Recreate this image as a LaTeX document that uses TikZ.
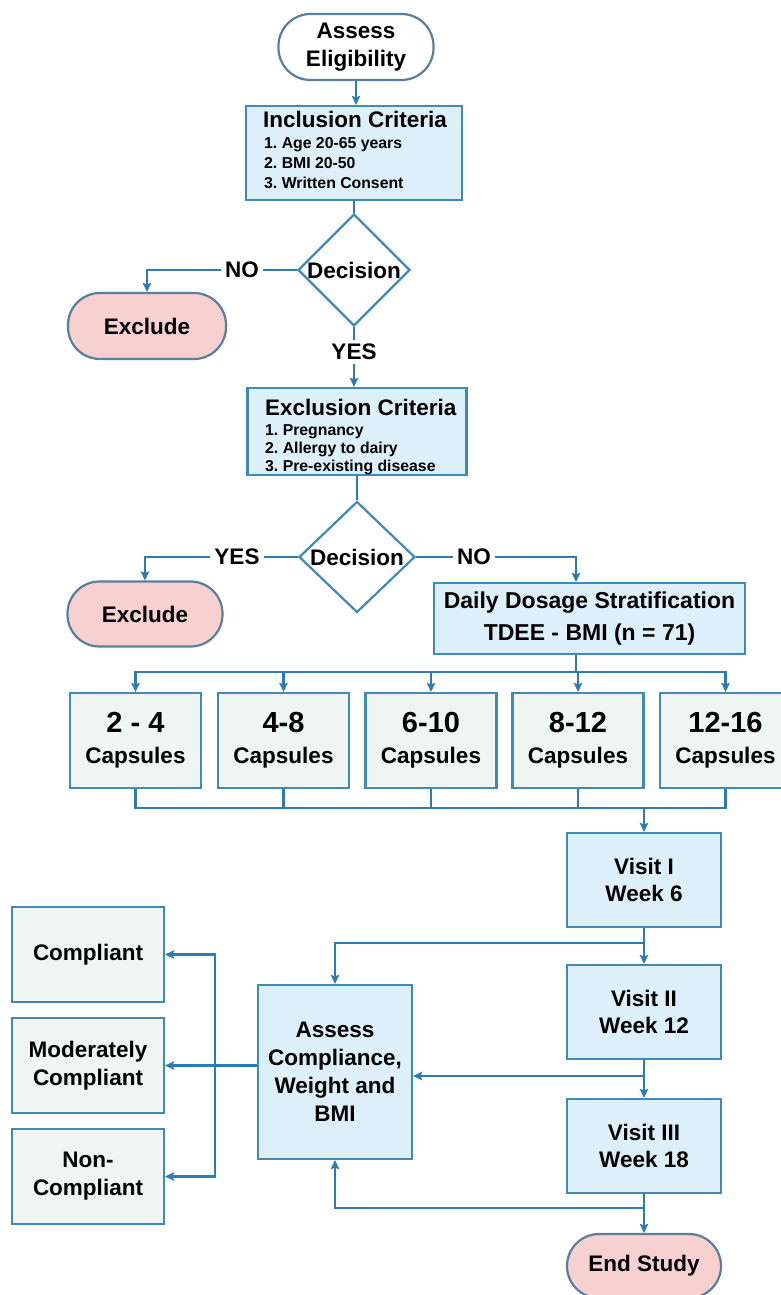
\documentclass[tikz,border=0pt]{standalone}
\usepackage{fontspec}
\setmainfont{Liberation Sans}
\frenchspacing
\usetikzlibrary{shapes.geometric,arrows.meta}
\definecolor{boxblue}{HTML}{DDF0FA}
\definecolor{boxgrey}{HTML}{EEF5F3}
\definecolor{boxline}{HTML}{3F8BB5}
\definecolor{termfill}{HTML}{F7D0D0}
\definecolor{termline}{HTML}{5A7E9E}
\definecolor{lineblue}{HTML}{2E7AB2}
\begin{document}
\begin{tikzpicture}[x=1pt,y=-1pt,
  txt/.style={font=\fontsize{22.5}{28}\selectfont\bfseries, align=center, inner sep=0pt, text=black},
  small/.style={font=\fontsize{15.8}{20}\selectfont\bfseries, inner sep=0pt, text=black, anchor=base west},
  bbox/.style={txt, rectangle, draw=boxline, fill=boxblue, line width=2.2pt},
  gbox/.style={txt, rectangle, draw=boxline, fill=boxgrey, line width=2.2pt},
  term/.style={txt, rectangle, rounded corners=32pt, draw=termline, fill=termfill, line width=2.2pt},
  startterm/.style={txt, rectangle, rounded corners=32pt, draw=termline, fill=white, line width=2.2pt},
  dec/.style={txt, diamond, aspect=1, draw=boxline, fill=white, line width=2.2pt},
  lab/.style={txt, inner sep=4pt},
  conn/.style={draw=lineblue, line width=2.3pt},
  arr/.style={conn, -{Stealth[length=9pt,width=8.5pt,inset=1.5pt]}},
]
\path[use as bounding box, fill=white] (0,0) rectangle (781,1295);
\clip (0,0) rectangle (781,1295);

% top part
\node[startterm, minimum width=155pt, minimum height=66pt] (ae) at (356,47) {Assess\\Eligibility};
\node[bbox, minimum width=216pt, minimum height=94pt] (inc) at (354,153) {};
\node[txt, anchor=base west] (inct) at (263,128) {Inclusion Criteria};
\node[small] (inc1) at (264,148.6) {1. Age 20-65 years};
\node[small] (inc2) at (264,168.6) {2. BMI 20-50};
\node[small] (inc3) at (264,188.6) {3. Written Consent};

\node[dec, minimum width=112pt, minimum height=112pt] (d1) at (354,270) {Decision};
\node[lab] (no1) at (242,270) {NO};
\node[lab] (yes1) at (354,352) {YES};
\node[term, minimum width=158pt, minimum height=66pt] (ex1) at (147,326) {Exclude};

\node[bbox, minimum width=219pt, minimum height=87pt] (exc) at (357,431.5) {};
\node[txt, anchor=base west] (exct) at (265,415) {Exclusion Criteria};
\node[small] (exc1) at (265,435.7) {1. Pregnancy};
\node[small] (exc2) at (265,453.7) {2. Allergy to dairy};
\node[small] (exc3) at (265,471.7) {3. Pre-existing disease};

\node[dec, minimum width=116pt, minimum height=111pt] (d2) at (357,557) {Decision};
\node[lab] (yes2) at (237,557) {YES};
\node[lab] (no2) at (474,557) {NO};
\node[term, minimum width=155pt, minimum height=65pt] (ex2) at (145,614) {Exclude};

\node[bbox, minimum width=311pt, minimum height=71pt, font=\fontsize{23}{32}\selectfont\bfseries] (daily) at (589.5,618.5) {Daily Dosage Stratification\\TDEE - BMI (n = 71)};

% capsules
\tikzset{caps/.style={gbox, minimum width=131pt, minimum height=95pt, font=\fontsize{22.5}{31}\selectfont\bfseries}}
\node[caps] (c1) at (135.5,740.5) {{\fontsize{29}{31}\selectfont 2 - 4}\\Capsules};
\node[caps] (c2) at (283.5,740.5) {{\fontsize{29}{31}\selectfont 4-8}\\Capsules};
\node[caps] (c3) at (431,740.5) {{\fontsize{29}{31}\selectfont 6-10}\\Capsules};
\node[caps] (c4) at (578,740.5) {{\fontsize{29}{31}\selectfont 8-12}\\Capsules};
\node[caps] (c5) at (725.5,740.5) {{\fontsize{29}{31}\selectfont 12-16}\\Capsules};

% visits
\tikzset{visit/.style={bbox, minimum width=154pt, minimum height=94pt, font=\fontsize{22.5}{27}\selectfont\bfseries}}
\node[visit] (v1) at (644,880) {Visit I\\Week 6};
\node[visit] (v2) at (644,1012) {Visit II\\Week 12};
\node[visit] (v3) at (644,1146) {Visit III\\Week 18};
\node[term, minimum width=154pt, minimum height=64pt] (es) at (644,1266) {End Study};

\node[bbox, minimum width=154pt, minimum height=174pt] (as) at (335,1072) {Assess\\Compliance,\\Weight and\\BMI};

\tikzset{res/.style={gbox, minimum width=152pt, minimum height=95pt}}
\node[res] (cp) at (88,954.5) {Compliant};
\node[res] (mc) at (88,1065.5) {Moderately\\Compliant};
\node[res] (nc) at (88,1176.5) {Non-\\Compliant};

% helper coordinates
\coordinate (b1) at (0,672);
\coordinate (b2) at (0,808);
\coordinate (j1) at (0,943);
\coordinate (j2) at (0,1076);
\coordinate (j3) at (0,1208);
\coordinate (vx) at (215,0);
\coordinate (dx) at (576,0);

% connectors
\draw[arr] (ae.south) -- (ae.south |- inc.north);
\draw[conn] (inc.south) -- (d1.north);
\draw[conn] (d1.west) -- (no1.east);
\draw[arr] (no1.west) -| (ex1.north);
\draw[conn] (d1.south) -- (yes1.north);
\draw[arr] (yes1.south) -- (yes1.south |- exc.north);
\draw[conn] (exc.south) -- (d2.north);
\draw[conn] (d2.west) -- (yes2.east);
\draw[arr] (yes2.west) -| (ex2.north);
\draw[conn] (d2.east) -- (no2.west);
\draw[arr] (no2.east) -| (dx |- daily.north);

\draw[conn] (dx |- daily.south) -- (dx |- b1);
\draw[conn, line cap=rect] (c1.north |- b1) -- (c5.north |- b1);
\foreach \c in {c1,c2,c3,c4,c5} {
  \draw[arr] (\c.north |- b1) -- (\c.north);
  \draw[conn] (\c.south) -- (\c.south |- b2);
}
\draw[conn, line cap=rect] (c1.south |- b2) -- (c5.south |- b2);
\draw[arr] (v1.north |- b2) -- (v1.north);

\draw[arr] (v1.south) -- (v2.north);
\draw[arr] (v1.south |- j1) -| (as.north);
\draw[arr] (v2.south) -- (v3.north);
\draw[arr] (v2.south |- j2) -- (as.east |- j2);
\draw[arr] (v3.south) -- (es.north);
\draw[arr] (v3.south |- j3) -| (as.south);

\draw[arr] (as.west |- mc.east) -- (mc.east);
\draw[conn, {Stealth[length=9pt,width=8.5pt,inset=1.5pt]}-{Stealth[length=9pt,width=8.5pt,inset=1.5pt]}]
  (cp.east) -- (vx |- cp.east) -- (vx |- nc.east) -- (nc.east);
\end{tikzpicture}
\end{document}
